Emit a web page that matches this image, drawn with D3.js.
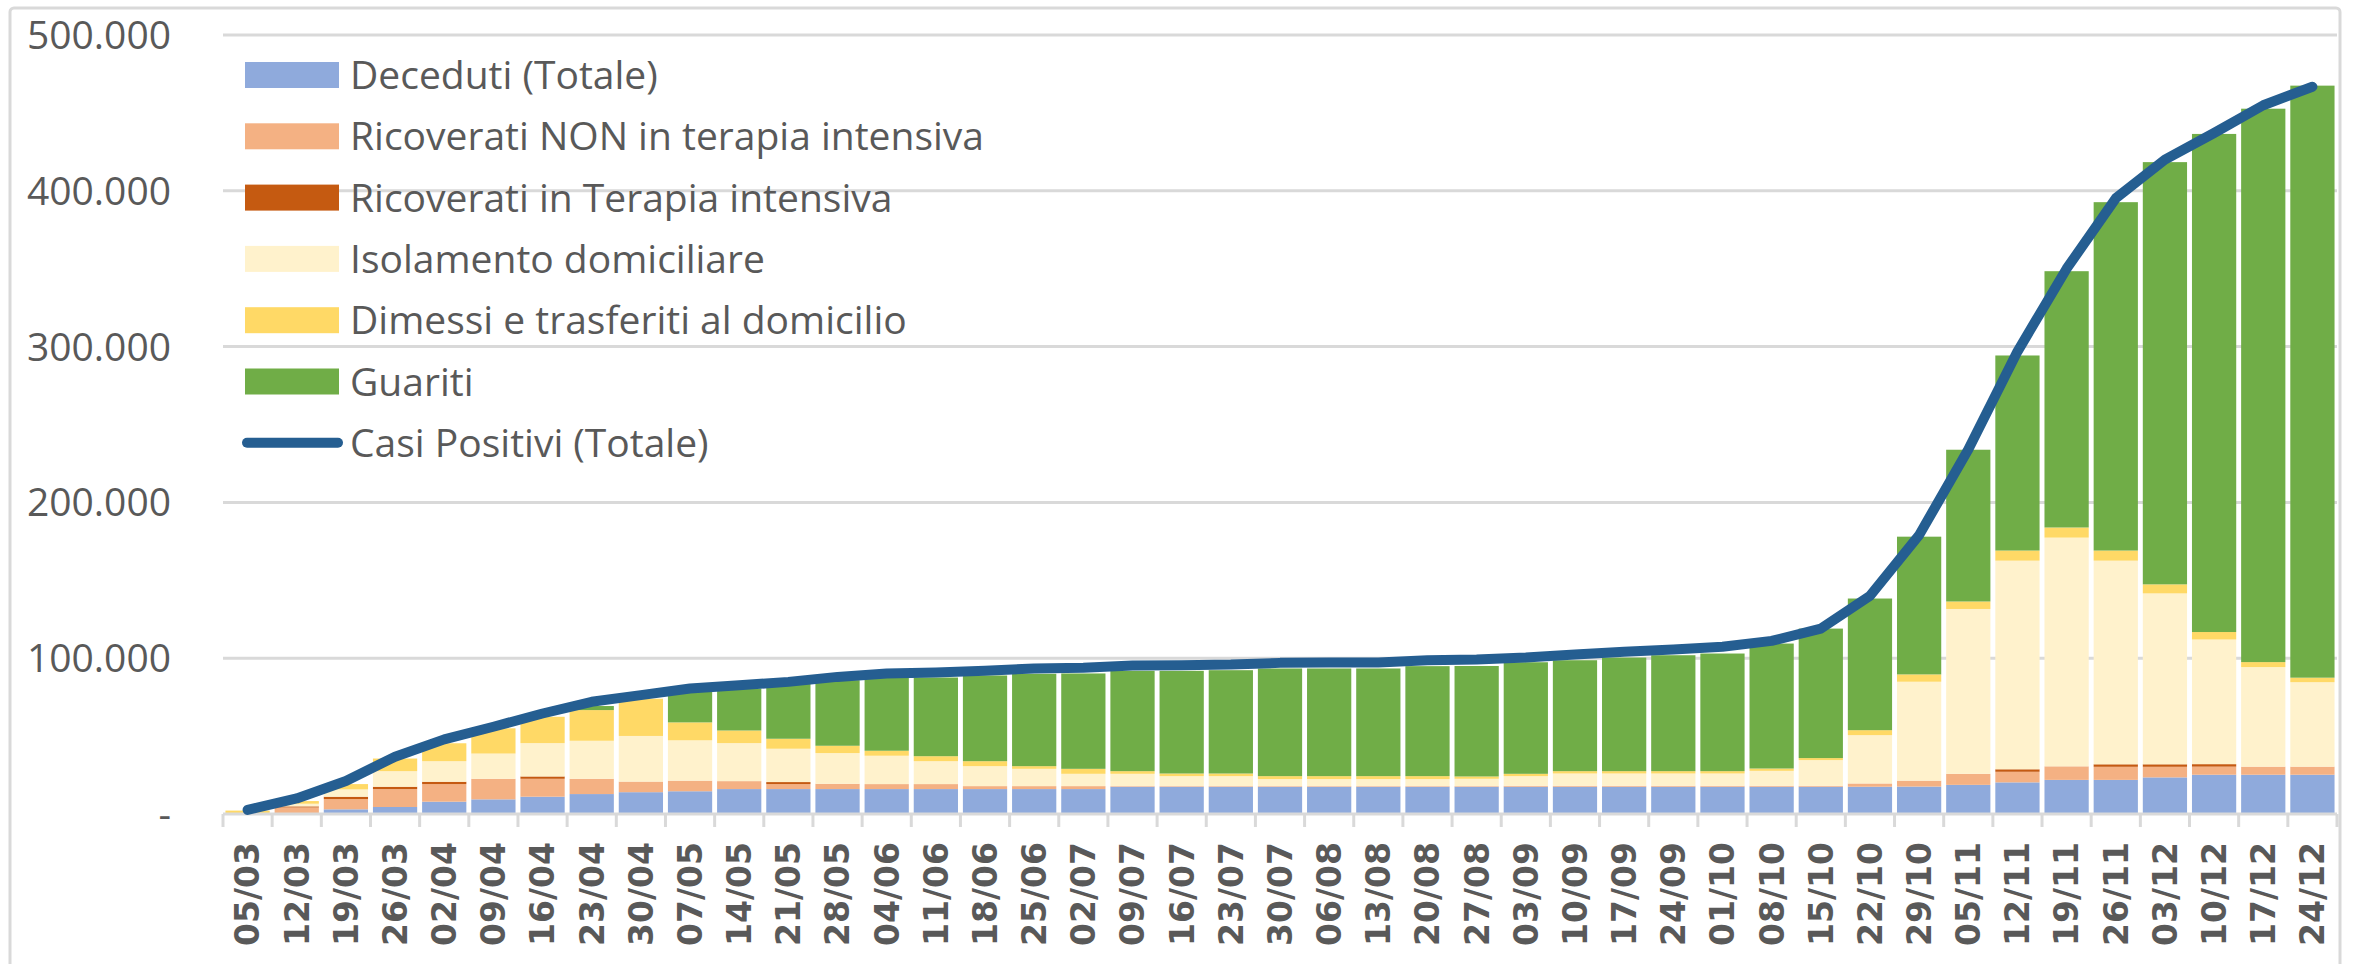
<!DOCTYPE html>
<meta charset="utf-8">
<head>
  <title>Lombardia - casi positivi per settimana</title>
</head>

<style>
body { margin: 0; background: #fff; }
text { fill: #595959; }
.ylab, .leg { font-family: "Open Sans", sans-serif; font-size: 39px; }
.xlab { font-family: "DejaVu Sans", sans-serif; font-weight: bold; font-size: 33px; }
</style>

<body>
  <svg width="2354" height="964"></svg>

  <script src="https://cdnjs.cloudflare.com/ajax/libs/d3/7.8.5/d3.min.js"></script>

  <script>
var width = 2354, height = 964

var dates = ['05/03','12/03','19/03','26/03','02/04','09/04','16/04','23/04','30/04','07/05','14/05','21/05',
  '28/05','04/06','11/06','18/06','25/06','02/07','09/07','16/07','23/07','30/07','06/08','13/08','20/08',
  '27/08','03/09','10/09','17/09','24/09','01/10','08/10','15/10','22/10','29/10','05/11','12/11','19/11',
  '26/11','03/12','10/12','17/12','24/12']

var deceduti = [0, 600, 3000, 4500, 7900, 9400, 11100, 12800, 14000, 14600, 16000, 16000,
  16000, 16000, 16000, 16000, 16000, 16000, 17500, 17500, 17500, 17500, 17500, 17500, 17500,
  17500, 17500, 17500, 17500, 17500, 17500, 17500, 17500, 17500, 17600, 18700, 20300, 21900,
  21900, 23500, 25200, 25200, 25200]

var ricoveratiNon = [0, 3600, 6600, 11500, 11300, 13200, 11500, 9800, 6800, 6800, 5100, 3200,
  3400, 3200, 3200, 1900, 1900, 1900, 400, 400, 400, 400, 400, 400, 400,
  400, 600, 600, 600, 600, 600, 600, 600, 2100, 3800, 7100, 6800, 8700,
  8400, 6800, 5200, 5200, 5200]

var terapiaIntensiva = [0, 700, 1500, 1500, 1500, 0, 1500, 0, 0, 0, 0, 1300,
  0, 0, 0, 0, 0, 0, 0, 0, 0, 0, 0, 0, 0,
  0, 0, 0, 0, 0, 0, 0, 0, 0, 0, 0, 1600, 0,
  1600, 1600, 1600, 0, 0]

var isolamento = [0, 1700, 4700, 10000, 13200, 16200, 21400, 24400, 29300, 25900, 24400, 21400,
  19700, 18200, 14700, 12800, 11100, 7900, 7900, 6400, 6400, 4500, 4500, 4500, 4500,
  4700, 6200, 7900, 7900, 7900, 7900, 9600, 16500, 31000, 63500, 105800, 133900, 146800,
  130700, 109700, 80000, 63900, 54200]

var dimessi = [2200, 1700, 3400, 8100, 11500, 16200, 16900, 19700, 23900, 11500, 8100, 6400,
  4700, 3200, 3200, 3200, 1700, 3200, 1700, 1700, 1700, 1900, 1900, 1900, 1900,
  1500, 1500, 1500, 1500, 1500, 1500, 1500, 1300, 3200, 4700, 4800, 6500, 6500,
  6500, 5800, 4800, 3200, 2900]

var guariti = [0, 0, 0, 0, 0, 0, 0, 2600, 0, 19900, 26900, 35500,
  42100, 46800, 50500, 55000, 59300, 61200, 64400, 65900, 66300, 69100, 69100, 69100, 70600,
  70900, 71600, 71200, 72900, 74400, 75500, 80200, 83100, 84500, 88400, 97400, 125200, 164500,
  223600, 271000, 319700, 355200, 380000]

var casiPositivi = [2600, 10000, 21200, 36800, 47900, 56000, 64500, 72000, 76300, 80600, 82700, 84800,
  88000, 90200, 90800, 91900, 93400, 93800, 95300, 95500, 95900, 97000, 97200, 97200, 98700,
  99200, 100400, 102400, 104100, 105600, 107300, 111100, 119000, 140000, 179000, 233900, 296800, 350000,
  395200, 420000, 437100, 454900, 466800]

var yTicks = [0, 100000, 200000, 300000, 400000, 500000]

var seriesNames = ['Deceduti (Totale)', 'Ricoverati NON in terapia intensiva', 'Ricoverati in Terapia intensiva',
  'Isolamento domiciliare', 'Dimessi e trasferiti al domicilio', 'Guariti']
var lineName = 'Casi Positivi (Totale)'
var colors = ['#8faadc', '#f4b183', '#c55a11', '#fff2cc', '#ffd966', '#70ad47']
var lineColor = '#255e91'

// table for d3.stack
var keys = ['dec', 'ric', 'ti', 'iso', 'dim', 'gua']
var rows = dates.map(function(d, i) {
  return {date: d, dec: deceduti[i], ric: ricoveratiNon[i], ti: terapiaIntensiva[i],
    iso: isolamento[i], dim: dimessi[i], gua: guariti[i]}
})

var svg = d3.select('svg')

// chart area border
svg.append('rect')
  .attr('x', 10).attr('y', 8)
  .attr('width', 2330).attr('height', 962)
  .attr('rx', 4)
  .attr('fill', 'none')
  .attr('stroke', '#d9d9d9')
  .attr('stroke-width', 3)

var x = d3.scaleBand()
  .domain(dates)
  .range([223, 2337])
  .paddingInner(0.1)
  .paddingOuter(0.05)

var y = d3.scaleLinear()
  .domain([0, 500000])
  .range([814, 35])

var it = d3.formatLocale({decimal: ',', thousands: '.', grouping: [3], currency: ['€', '']})
var fmt = it.format(',')

// gridlines
svg.append('g')
  .selectAll('line')
  .data(yTicks.slice(1))
  .enter().append('line')
  .attr('x1', 223).attr('x2', 2337)
  .attr('y1', function(d) { return y(d) })
  .attr('y2', function(d) { return y(d) })
  .attr('stroke', '#d9d9d9')
  .attr('stroke-width', 3)

// y labels
svg.append('g')
  .selectAll('text')
  .data(yTicks)
  .enter().append('text')
  .attr('class', 'ylab')
  .attr('x', 171)
  .attr('y', function(d) { return y(d) })
  .attr('dy', '0.36em')
  .attr('text-anchor', 'end')
  .text(function(d) { return d === 0 ? '-' : fmt(d) })

// stacked bars
var stacked = d3.stack().keys(keys)(rows)

svg.append('g')
  .selectAll('g')
  .data(stacked)
  .enter().append('g')
  .attr('fill', function(d, i) { return colors[i] })
  .selectAll('rect')
  .data(function(d) { return d })
  .enter().append('rect')
  .attr('x', function(d) { return x(d.data.date) })
  .attr('width', x.bandwidth())
  .attr('y', function(d) { return y(d[1]) })
  .attr('height', function(d) { return y(d[0]) - y(d[1]) })

// x axis line and ticks at category boundaries
var step = x.step()
svg.append('line')
  .attr('x1', 223).attr('x2', 2337)
  .attr('y1', 814).attr('y2', 814)
  .attr('stroke', '#d9d9d9')
  .attr('stroke-width', 3)

svg.append('g')
  .selectAll('line')
  .data(d3.range(dates.length + 1))
  .enter().append('line')
  .attr('x1', function(i) { return 223 + i * step })
  .attr('x2', function(i) { return 223 + i * step })
  .attr('y1', 814).attr('y2', 827)
  .attr('stroke', '#d9d9d9')
  .attr('stroke-width', 3)

// x labels rotated
svg.append('g')
  .selectAll('text')
  .data(dates)
  .enter().append('text')
  .attr('class', 'xlab')
  .attr('text-anchor', 'end')
  .attr('dy', '0.36em')
  .attr('transform', function(d) {
    return 'translate(' + (x(d) + x.bandwidth() / 2) + ',842) rotate(-90)'
  })
  .text(function(d) { return d })

// line
var line = d3.line()
  .x(function(d, i) { return x(dates[i]) + x.bandwidth() / 2 })
  .y(function(d) { return y(d) })

svg.append('path')
  .datum(casiPositivi)
  .attr('d', line)
  .attr('fill', 'none')
  .attr('stroke', lineColor)
  .attr('stroke-width', 10)
  .attr('stroke-linejoin', 'round')
  .attr('stroke-linecap', 'round')

// legend
var leg = svg.append('g')
var rowH = 61.3
seriesNames.forEach(function(name, i) {
  var cy = 75 + i * rowH
  leg.append('rect')
    .attr('x', 245).attr('y', cy - 13)
    .attr('width', 94).attr('height', 26)
    .attr('fill', colors[i])
  leg.append('text')
    .attr('class', 'leg')
    .attr('x', 350).attr('y', cy)
    .attr('dy', '0.36em')
    .text(name)
})
var ly = 75 + seriesNames.length * rowH
leg.append('line')
  .attr('x1', 247).attr('x2', 338)
  .attr('y1', ly).attr('y2', ly)
  .attr('stroke', lineColor)
  .attr('stroke-width', 10)
  .attr('stroke-linecap', 'round')
leg.append('text')
  .attr('class', 'leg')
  .attr('x', 350).attr('y', ly)
  .attr('dy', '0.36em')
  .text(lineName)
  </script>
</body>
</html>
